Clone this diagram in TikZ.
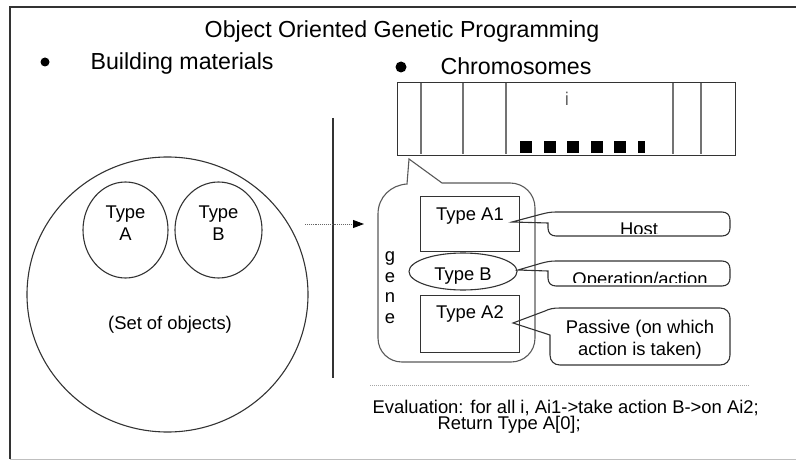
\documentclass[tikz,border=0pt]{standalone}
\usepackage{fontspec}
\setmainfont{Liberation Sans}
\usetikzlibrary{arrows.meta,shapes.geometric}
\begin{document}
\begin{tikzpicture}[x=1pt,y=-1pt,
  line width=1.1pt,
  big/.style={font=\fontsize{23.2}{26}\selectfont, inner sep=0pt},
  small/.style={font=\fontsize{18.4}{21}\selectfont, inner sep=0pt},
  outline/.style={draw=black!80},
  softline/.style={draw=black!65},
  plainbox/.style={outline, inner sep=0pt, anchor=north west},
  oval/.style={outline, ellipse, inner sep=0pt}]
\useasboundingbox (0,0) rectangle (796,460);

% page frame
\draw[black!80, line width=1.4pt] (800,7) -- (10,7) -- (10,459);
\draw[black!25, line width=1pt] (10,459) -- (800,459);

% headings
\node[big, anchor=base] (title) at (402,38) {Object Oriented Genetic Programming};
\fill (45,62) circle (4.5pt);
\node[big, anchor=base west] (bm) at (90,70) {Building materials};
\fill (401,67) circle (5.5pt);
\node[big, anchor=base west] (chr) at (440,75) {Chromosomes};

% chromosome strip
\node[plainbox, minimum width=338pt, minimum height=73pt] (chrom) at (397,82) {};
\foreach \x in {421,463,506,673,701}
  \draw[black!55, line width=1.3pt] (\x,83) -- (\x,154);
\node[small, text=black!60] (idx) at (567,99) {i};
\foreach \x in {520,543.5,567,590.5,614}
  \fill (\x,141) rectangle ++(12,12);
\fill (638,141) rectangle (645,153);

% divider
\draw[black!80] (333,118) -- (333,378);

% building materials: set of objects
\node[oval, minimum width=281pt, minimum height=275pt] (set) at (167.5,294.5) {};
\node[oval, minimum width=85pt, minimum height=96pt] (ta) at (125.5,230) {};
\node[oval, minimum width=87pt, minimum height=96pt] (tb) at (218.5,230) {};
\node[small, anchor=base] (taT) at (125.5,218) {Type};
\node[small, anchor=base] (taL) at (125.5,240) {A};
\node[small, anchor=base] (tbT) at (218.5,218) {Type};
\node[small, anchor=base] (tbL) at (218.5,240) {B};
\node[small, anchor=base] (setL) at (170,329) {(Set of objects)};

% mapping arrow
\coordinate (arrS) at (305,224);
\coordinate (arrE) at (364,224);
\draw[densely dotted, black!60, line width=0.9pt,
  -{Triangle[length=11pt,width=8pt,color=black]}] (arrS) -- (arrE);

% gene callout
\draw[softline] (409,159) -- (442,183) -- (510,183)
  .. controls (524,183) and (535,194) .. (535,208) -- (535,338)
  .. controls (535,352) and (524,362) .. (511,362) -- (402,362)
  .. controls (389,362) and (378,352) .. (378,338) -- (378,214)
  .. controls (378,197) and (391,185) .. (407,184) -- cycle;

\node[plainbox, minimum width=99pt, minimum height=55pt] (a1) at (420,196) {};
\node[small, anchor=base] (a1L) at (470,220) {Type A1};
\node[oval, minimum width=108pt, minimum height=37pt] (bop) at (463,271.5) {};
\node[small, anchor=base] (bopL) at (463,280) {Type B};
\node[plainbox, minimum width=99pt, minimum height=57pt] (a2) at (420,295) {};
\node[small, anchor=base] (a2L) at (470,318) {Type A2};

\node[small, anchor=base] (g1) at (390,261.5) {g};
\node[small, anchor=base] (g2) at (390,282) {e};
\node[small, anchor=base] (g3) at (390,302.5) {n};
\node[small, anchor=base] (g4) at (390,323) {e};

% role callouts
\coordinate (hostTip) at (512,222);
\begin{scope}
  \clip (548,212) rectangle (730,233);
  \node[small, anchor=base] (hostL) at (639,235) {Host};
\end{scope}
\draw[outline] (hostTip) -- (548,223) -- (548,228)
  .. controls (548,233) and (551,236) .. (556,236) -- (722,236)
  .. controls (727,236) and (730,233) .. (730,228) -- (730,220)
  .. controls (730,215) and (727,212) .. (722,212) -- (556,212)
  .. controls (550,212) and (546,213) .. (542,214) -- cycle;

\coordinate (opTip) at (518,270);
\begin{scope}
  \clip (548,261) rectangle (730,282.5);
  \node[small, anchor=base] (opL) at (640,285) {Operation/action};
\end{scope}
\draw[outline] (opTip) -- (548,271) -- (548,278)
  .. controls (548,283) and (551,286) .. (556,286) -- (722,286)
  .. controls (727,286) and (730,283) .. (730,278) -- (730,269)
  .. controls (730,264) and (727,261) .. (722,261) -- (556,261)
  .. controls (550,261) and (546,262) .. (542,263) -- cycle;

\coordinate (pasTip) at (513,323);
\node[small, anchor=base] (pas1) at (640,333) {Passive (on which};
\node[small, anchor=base] (pas2) at (640,355) {action is taken)};
\draw[outline] (pasTip) -- (550,335) -- (550,355)
  .. controls (550,361) and (554,365) .. (560,365) -- (720,365)
  .. controls (726,365) and (730,361) .. (730,355) -- (730,318)
  .. controls (730,312) and (726,308) .. (720,308) -- (560,308)
  .. controls (553,308) and (549,309) .. (545,311) -- cycle;

% evaluation rule (baseline anchor sits on the last line)
\draw[black!35, densely dotted, line width=1pt] (370,385) -- (750,385);
\node[small, anchor=base west, align=left,
  font=\fontsize{18.4}{16}\selectfont] (ev) at (372,429)
  {Evaluation: for all i, Ai1->take action B->on Ai2;\\
   \hspace*{65pt}Return Type A[0];};
\end{tikzpicture}
\end{document}
